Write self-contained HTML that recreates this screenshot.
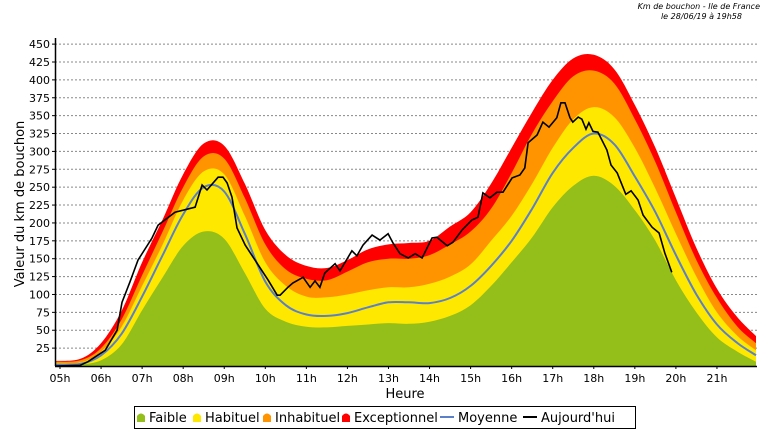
<!DOCTYPE html>
<html><head><meta charset="utf-8">
<style>
html,body{margin:0;padding:0;background:#fff;}
svg{display:block;font-family:"DejaVu Sans","Liberation Sans",sans-serif;}
</style></head>
<body>
<svg id="chart" width="765" height="430" viewBox="0 0 765 430" xmlns="http://www.w3.org/2000/svg">
  <text x="760" y="9" text-anchor="end" font-size="8" font-style="italic">Km de bouchon - Ile de France</text>
  <text x="742" y="19" text-anchor="end" font-size="8" font-style="italic">le 28/06/19 à 19h58</text>
  <g id="grid"></g>
  <g id="areas"></g>
  <g id="lines"></g>
  <g id="axes"></g>
  <text transform="translate(24,204) rotate(-90)" text-anchor="middle" font-size="13">Valeur du  km de bouchon</text>
  <text x="405" y="398" text-anchor="middle" font-size="13">Heure</text>
  <g>
    <rect x="134.5" y="406.5" width="501" height="22" fill="#fff" stroke="#000"/>
    <g><path d="M137 422 L137 416 Q141 411 145 416 L145 422 Z" fill="#94bf1a"/><text x="149" y="422" font-size="13">Faible</text></g>
    <g><path d="M193 422 L193 416 Q197 411 201 416 L201 422 Z" fill="#ffe800"/><text x="205" y="422" font-size="13">Habituel</text></g>
    <g><path d="M263 422 L263 416 Q267 411 271 416 L271 422 Z" fill="#ff9400"/><text x="275" y="422" font-size="13">Inhabituel</text></g>
    <g><path d="M342 422 L342 416 Q346 411 350 416 L350 422 Z" fill="#ff0000"/><text x="354" y="422" font-size="13">Exceptionnel</text></g>
    <g><line x1="440" y1="417" x2="454" y2="417" stroke="#5b80c8" stroke-width="2"/><text x="458" y="422" font-size="13">Moyenne</text></g>
    <g><line x1="523" y1="417" x2="537" y2="417" stroke="#000" stroke-width="2"/><text x="541" y="422" font-size="13">Aujourd'hui</text></g>
  </g>
</svg>
<script>
const hours = [4.9,5.5,6,6.5,7,7.5,8,8.5,9,9.5,10,10.5,11,11.5,12,12.5,13,13.5,14,14.5,15,15.5,16,16.5,17,17.5,18,18.5,19,19.5,20,20.5,21,21.5,21.95];
const faible = [0,2,8,30,78,124,168,188,178,130,80,62,55,54,56,58,60,59,62,70,85,112,145,180,222,252,266,252,218,175,120,75,40,20,6];
const habituel = [4,5,20,55,112,170,232,272,268,210,145,112,97,96,100,106,110,110,115,125,142,175,210,255,305,345,362,348,305,248,185,125,75,42,22];
const inhabituel = [6,8,25,65,127,188,250,293,290,235,170,135,122,120,132,145,150,150,155,170,188,220,270,325,370,405,413,395,345,285,215,148,95,55,32];
const exceptionnel = [7,10,32,77,145,205,268,311,308,255,190,155,140,137,148,163,170,172,175,195,215,255,305,355,400,430,435,415,365,305,235,165,108,68,42];
const moyenne = [2,3,15,45,97,155,212,250,244,185,118,85,72,70,74,82,89,89,88,95,112,140,175,220,270,305,325,310,265,215,155,100,58,32,15];
const todayHours = [4.88,5.49,5.68,6.10,6.39,6.51,6.70,6.90,7.24,7.39,7.80,8.29,8.46,8.58,8.85,8.97,9.07,9.19,9.31,9.51,9.75,10.07,10.29,10.36,10.55,10.67,10.92,11.09,11.21,11.33,11.45,11.70,11.82,12.11,12.23,12.38,12.60,12.79,12.99,13.11,13.28,13.48,13.65,13.82,14.06,14.18,14.43,14.57,14.79,15.03,15.18,15.30,15.47,15.64,15.79,16.01,16.20,16.32,16.40,16.62,16.76,16.91,17.10,17.20,17.30,17.42,17.49,17.62,17.71,17.81,17.88,17.98,18.10,18.32,18.42,18.57,18.78,18.91,19.08,19.20,19.42,19.59,19.73,19.90];
const today = [0,1,6,22,50,89,117,148,179,197,215,222,253,246,264,264,256,236,193,169,148,120,99,99,110,116,124,110,119,110,130,143,133,161,154,169,183,176,185,172,157,151,157,151,179,180,168,173,190,204,208,242,235,243,243,263,267,277,312,323,341,334,347,368,368,347,341,348,345,331,340,328,327,302,281,270,240,245,232,211,194,186,158,131];
const yTicks = [25,50,75,100,125,150,175,200,225,250,275,300,325,350,375,400,425,450];
const xTicks = ["05h","06h","07h","08h","09h","10h","11h","12h","13h","14h","15h","16h","17h","18h","19h","20h","21h"];

const NS="http://www.w3.org/2000/svg";
const X0=55,X1=757,Y0=366;
function xs(h){return 60+(h-5)*41.06;}
function ys(v){return Y0-v*0.7153;}
function mk(tag,attrs,parent){const e=document.createElementNS(NS,tag);for(const k in attrs)e.setAttribute(k,attrs[k]);parent.appendChild(e);return e;}
function smooth(pts){
  let d="M"+pts[0][0].toFixed(1)+" "+pts[0][1].toFixed(1);
  for(let i=0;i<pts.length-1;i++){
    const p0=pts[i-1]||pts[i],p1=pts[i],p2=pts[i+1],p3=pts[i+2]||p2;
    const c1=[p1[0]+(p2[0]-p0[0])/6,p1[1]+(p2[1]-p0[1])/6];
    const c2=[p2[0]-(p3[0]-p1[0])/6,p2[1]-(p3[1]-p1[1])/6];
    d+=" C"+c1[0].toFixed(1)+" "+c1[1].toFixed(1)+" "+c2[0].toFixed(1)+" "+c2[1].toFixed(1)+" "+p2[0].toFixed(1)+" "+p2[1].toFixed(1);
  }
  return d;
}
const grid=document.getElementById('grid'),areas=document.getElementById('areas'),lines=document.getElementById('lines'),axes=document.getElementById('axes');
yTicks.forEach(v=>{
  const g=mk('line',{x1:X0,x2:X1,y1:ys(v),y2:ys(v),stroke:'#888','stroke-dasharray':'2,2','stroke-width':1},grid);
  
  
  const t=mk('text',{x:X0-5,y:ys(v)+4,'text-anchor':'end','font-size':11},axes);
  t.textContent=v;
  
  
  mk('line',{x1:X0-3,x2:X0,y1:ys(v),y2:ys(v),stroke:'#000'},axes);
});
xTicks.forEach((lab,i)=>{
  const x=xs(5+i);
  mk('line',{x1:x,x2:x,y1:Y0,y2:Y0+3,stroke:'#000'},axes);
  const t=mk('text',{x:x,y:Y0+16,'text-anchor':'middle','font-size':11},axes);
  t.textContent=lab;
  
  
});
[[exceptionnel,'#ff0000','area-exceptionnel'],[inhabituel,'#ff9400','area-inhabituel'],[habituel,'#ffe800','area-habituel'],[faible,'#94bf1a','area-faible']].forEach(s=>{
  const pts=hours.map((h,i)=>[xs(h),ys(s[0][i])]);
  const d=smooth(pts)+" L"+xs(hours[hours.length-1]).toFixed(1)+" "+Y0+" L"+xs(hours[0]).toFixed(1)+" "+Y0+" Z";
  const p=mk('path',{d:d,fill:s[1]},areas);
  
  
});
const mp=mk('path',{d:smooth(hours.map((h,i)=>[xs(h),ys(moyenne[i])])),fill:'none',stroke:'#5b80c8','stroke-width':2},lines);


const tp=mk('polyline',{points:todayHours.map((h,i)=>xs(h).toFixed(1)+","+ys(today[i]).toFixed(1)).join(" "),fill:'none',stroke:'#000','stroke-width':1.6},lines);


const ya=mk('line',{x1:X0+0.5,x2:X0+0.5,y1:38,y2:Y0,stroke:'#000','stroke-width':1.5},axes);


const xa=mk('line',{x1:X0,x2:X1,y1:Y0+0.5,y2:Y0+0.5,stroke:'#000','stroke-width':1.5},axes);


</script>
</body></html>
